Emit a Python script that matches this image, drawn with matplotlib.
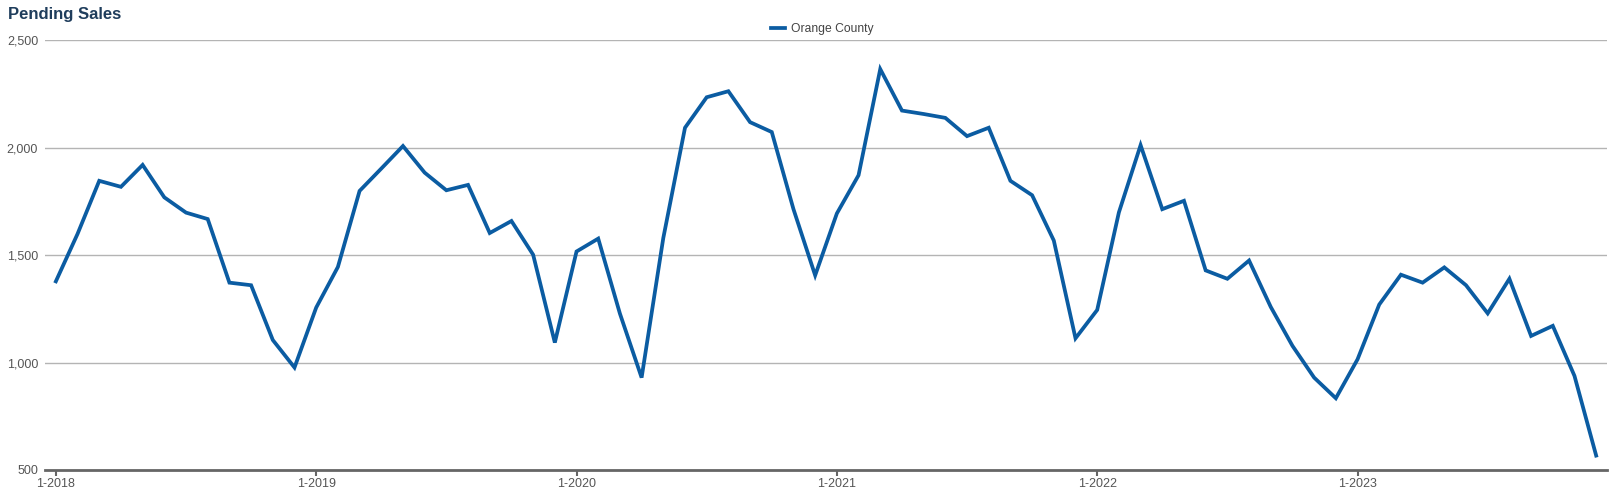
import matplotlib
matplotlib.use("Agg")
import matplotlib.pyplot as plt
from matplotlib.ticker import FuncFormatter

plt.rcParams['font.family'] = ['Liberation Sans', 'DejaVu Sans']

# monthly pending sales, Jan 2018 - Dec 2023
months = [f"{m}-{y}" for y in range(2018, 2024) for m in range(1, 13)]
pending = [
    1378, 1599, 1846, 1818, 1920, 1769, 1698, 1668, 1372, 1360, 1105, 977,
    1256, 1445, 1799, 1903, 2008, 1884, 1802, 1827, 1603, 1659, 1502, 1093,
    1517, 1577, 1228, 930, 1580, 2093, 2235, 2263, 2119, 2073, 1714, 1406,
    1694, 1872, 2366, 2173, 2157, 2139, 2054, 2093, 1846, 1779, 1568, 1113,
    1245, 1699, 2012, 1714, 1753, 1429, 1390, 1475, 1259, 1078, 930, 834,
    1015, 1270, 1409, 1372, 1443, 1360, 1229, 1390, 1124, 1171, 938, 567,
]
series_name = "Orange County"
y_ticks = [500, 1000, 1500, 2000, 2500]

fig = plt.figure(figsize=(16.19, 4.94), dpi=100)
ax = fig.add_axes([0.0278, 0.0486, 0.9648, 0.8698])

x = list(range(len(pending)))
ax.plot(x, pending, color='#0b5ca2', lw=2.7, solid_joinstyle='miter',
        label=series_name)

ax.set_xlim(-0.5, len(pending) - 0.5)
ax.set_ylim(500, 2500)
ax.set_yticks(y_ticks)
ax.yaxis.set_major_formatter(FuncFormatter(lambda v, p: f"{int(v):,}"))
ax.set_xticks([i for i, m in enumerate(months) if m.startswith("1-")])
ax.set_xticklabels([m for m in months if m.startswith("1-")])

ax.grid(axis='y', color='#b4b4b4', lw=1)
ax.set_axisbelow(True)
for s in ['top', 'right', 'left']:
    ax.spines[s].set_visible(False)
ax.spines['bottom'].set_color('#666666')
ax.spines['bottom'].set_linewidth(2)

ax.tick_params(axis='y', length=0, pad=5, labelsize=9, labelcolor='#555555')
ax.tick_params(axis='x', length=4, width=1.5, color='#666666', pad=2,
               labelsize=9, labelcolor='#555555')

fig.text(0.005, 0.985, "Pending Sales", fontsize=12, fontweight='bold',
         color='#1f3d5c', ha='left', va='top')
fig.legend(loc='upper center', bbox_to_anchor=(0.508, 0.975), frameon=False,
           fontsize=8.7, labelcolor='#444444', handlelength=1.1,
           handletextpad=0.5)

fig.savefig("out.png", dpi=100)
